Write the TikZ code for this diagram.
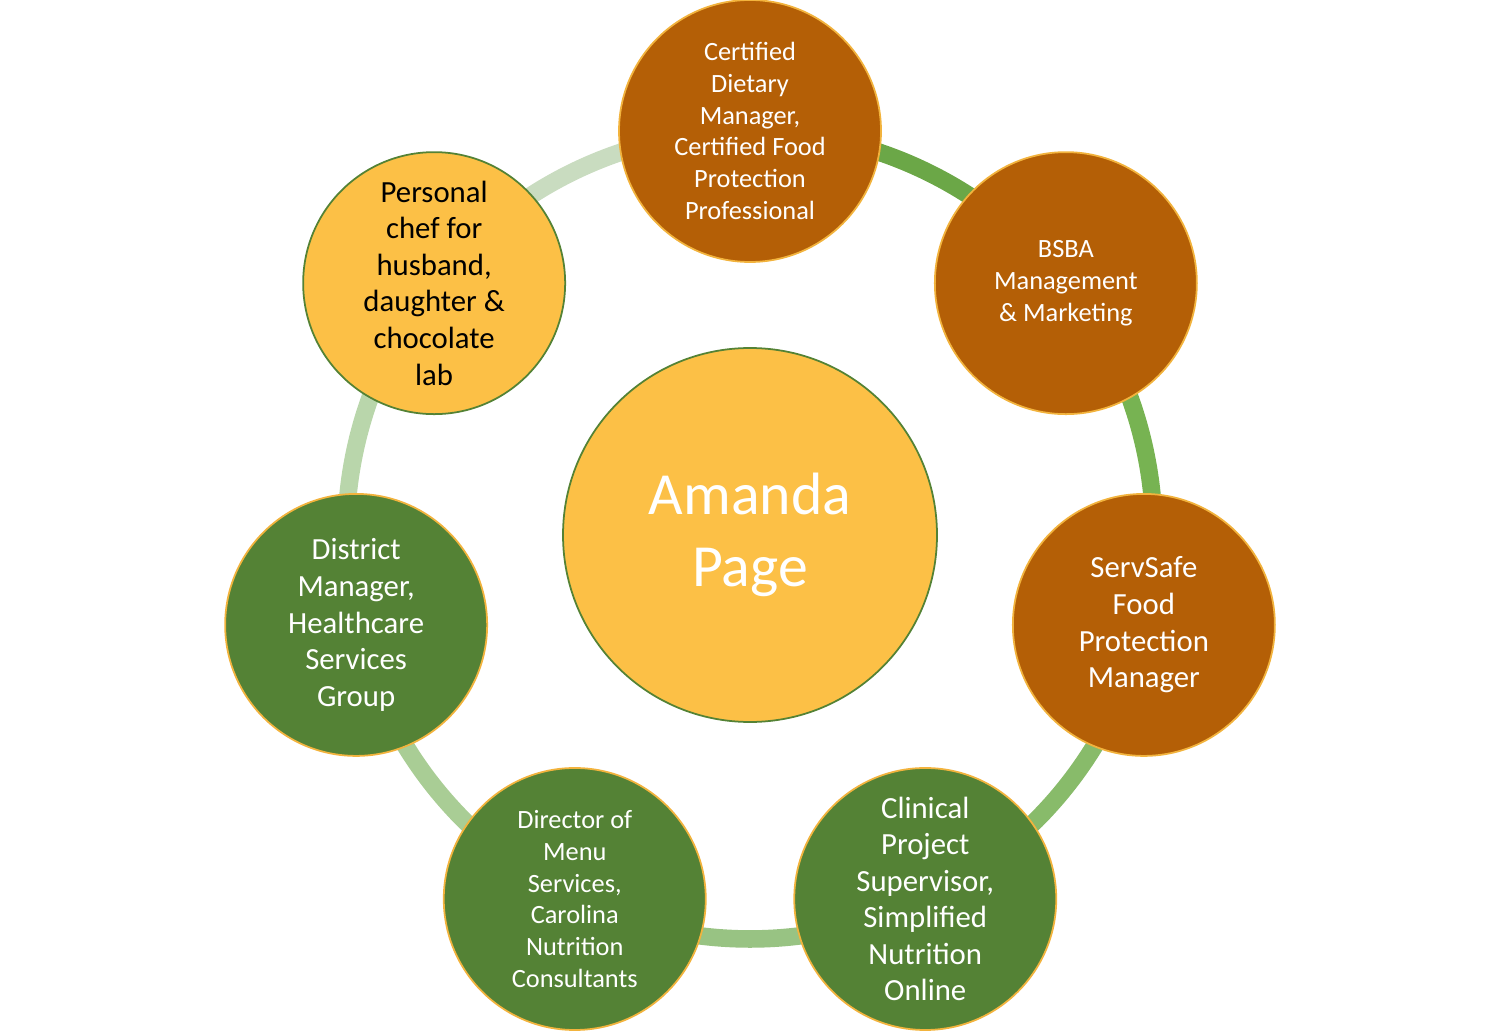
\documentclass[tikz,border=0pt]{standalone}
\usepackage{fontspec}
\setmainfont{Carlito}
\usetikzlibrary{calc}
\definecolor{brn}{HTML}{B45F06}
\definecolor{grn}{HTML}{548235}
\definecolor{yel}{HTML}{FCC046}
\definecolor{byel}{HTML}{F2B33D}
\begin{document}
\begin{tikzpicture}
\useasboundingbox (0,0) rectangle (30,-20.62);
\tikzset{
 sat/.style={circle,minimum size=5.24cm,inner sep=0pt,align=center,line width=1pt,font=\fontsize{15}{18}\selectfont},
 bnode/.style={sat,fill=brn,draw=byel,text=white},
 gnode/.style={sat,fill=grn,draw=byel,text=white},
 ynode/.style={sat,fill=yel,draw=grn,text=black},
 bigtext/.style={font=\fontsize{17.5}{20.8}\selectfont},
 ring/.style={line width=10pt}
}
\coordinate (c) at (15,-10.7);
\foreach \a/\col in {90/6BA747,38.57/77B352,-12.86/88BB6A,-64.29/98C383,-115.71/A9CD95,-167.14/B9D6AB,-218.57/C9DCC0}{
  \definecolor{rc}{HTML}{\col}
  \draw[ring,rc] ($(c)+(\a:8.08)$) arc[start angle=\a,end angle=\a-51.43,radius=8.08];
}
\node[circle,minimum size=7.48cm,fill=yel,draw=grn,line width=1pt,text=white,font=\fontsize{34}{41}\selectfont,align=center] (ctr) at (c) {Amanda\\Page};
\node[bnode] (n1) at ($(c)+(90:8.08)$) {Certified\\Dietary\\Manager,\\Certified Food\\Protection\\Professional};
\node[bnode] (n2) at ($(c)+(38.57:8.08)$) {BSBA\\Management\\\& Marketing};
\node[bnode,bigtext] (n3) at ($(c)+(-12.86:8.08)$) {ServSafe\\Food\\Protection\\Manager};
\node[gnode,bigtext] (n4) at ($(c)+(-64.29:8.08)$) {Clinical\\Project\\Supervisor,\\Simplified\\Nutrition\\Online};
\node[gnode] (n5) at ($(c)+(-115.71:8.08)$) {Director of\\Menu\\Services,\\Carolina\\Nutrition\\Consultants};
\node[gnode,bigtext] (n6) at ($(c)+(-167.14:8.08)$) {District\\Manager,\\Healthcare\\Services\\Group};
\node[ynode,bigtext] (n7) at ($(c)+(141.43:8.08)$) {Personal\\chef for\\husband,\\daughter \&\\chocolate\\lab};
\end{tikzpicture}
\end{document}
